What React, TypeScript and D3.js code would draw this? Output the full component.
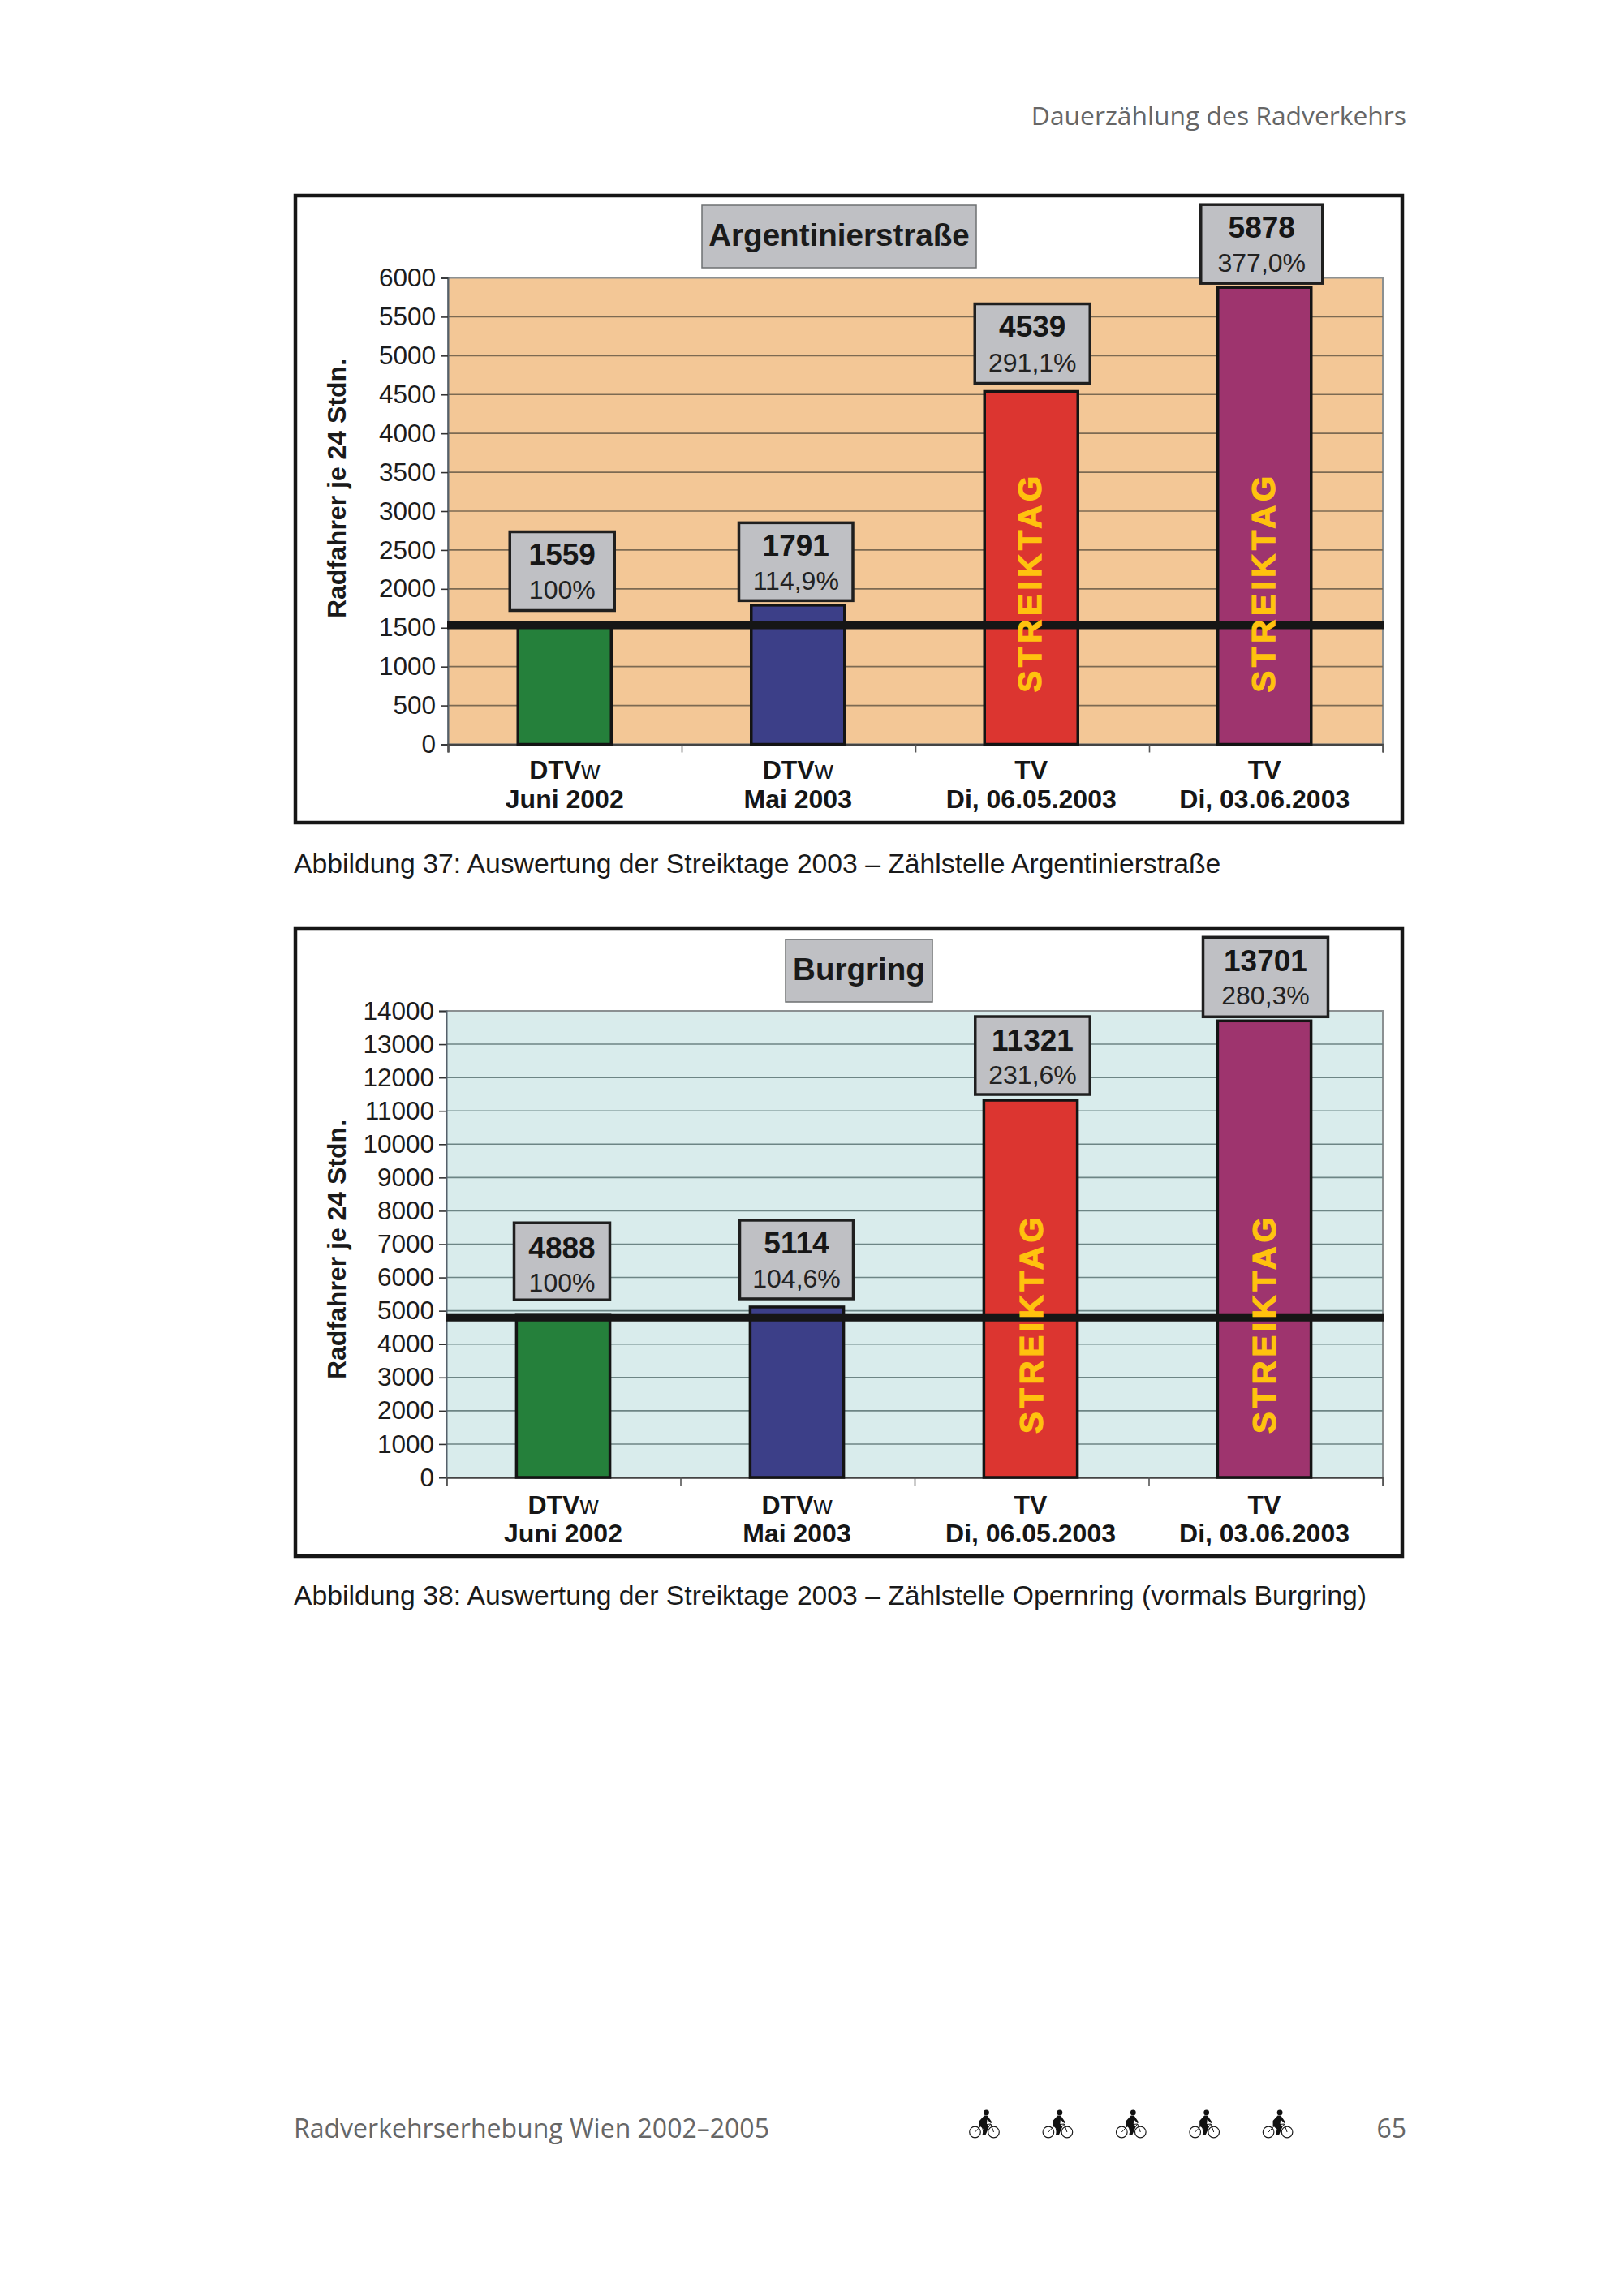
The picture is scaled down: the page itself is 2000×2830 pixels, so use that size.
import { useEffect, useRef } from "react";
import * as d3 from "d3";

const categoryKinds = ["DTV", "DTV", "TV", "TV"];
const categoryDates = ["Juni 2002", "Mai 2003", "Di, 06.05.2003", "Di, 03.06.2003"];
const barColors = ["#25803b", "#3c3f88", "#dc3530", "#9e346e"];

const argValues = [1559, 1791, 4539, 5878];
const argPercents = ["100%", "114,9%", "291,1%", "377,0%"];
const argTicks = d3.range(0, 6001, 500);
const argRefLine = 1535;

const burgValues = [4888, 5114, 11321, 13701];
const burgPercents = ["100%", "104,6%", "231,6%", "280,3%"];
const burgTicks = d3.range(0, 14001, 1000);
const burgRefLine = 4800;

const SANS = "'Liberation Sans', Arial, sans-serif";
const PAGE_FONT = "'Open Sans', sans-serif";

type BoxLayout = { dx: number; gap: number; w: number; h: number; ty: number };

type ChartProps = {
  title: string;
  values: number[];
  percents: string[];
  ticks: number[];
  refLine: number;
  frame: { left: number; top: number; right: number; bottom: number };
  plot: { left: number; top: number; right: number; bottom: number };
  titleBox: { x0: number; x1: number; y0: number; y1: number };
  boxes: BoxLayout[];
  plotFill: string;
  gridColor: string;
  label1: number;
  label2: number;
  axisTitleY: number;
  strikeBottom: number;
  strikeDx: number[];
};

const argBoxes: BoxLayout[] = [
  { dx: -3, gap: 15.6, w: 129, h: 97, ty: -1 },
  { dx: -2.5, gap: 5.5, w: 140.5, h: 96, ty: -1 },
  { dx: 1.5, gap: 10, w: 142, h: 98, ty: -1 },
  { dx: -3.5, gap: 5, w: 150, h: 97, ty: -1 },
];

const burgBoxes: BoxLayout[] = [
  { dx: -1.5, gap: 18, w: 118, h: 95, ty: 2 },
  { dx: -0.5, gap: 10, w: 140, h: 97, ty: 0 },
  { dx: 2.5, gap: 7, w: 141.5, h: 96, ty: 0 },
  { dx: 1.5, gap: 5, w: 154, h: 98, ty: 0 },
];

function drawChart(root: d3.Selection<SVGGElement, unknown, null, undefined>, c: ChartProps) {
  const { plot, frame } = c;
  const x = d3
    .scaleBand<number>()
    .domain(d3.range(c.values.length))
    .range([plot.left, plot.right - 2])
    .paddingInner(0.6)
    .paddingOuter(0.3);
  const y = d3
    .scaleLinear()
    .domain([0, c.ticks[c.ticks.length - 1]])
    .range([plot.bottom, plot.top]);
  const cx = (i: number) => (x(i) ?? 0) + x.bandwidth() / 2;

  // frame
  root
    .append("rect")
    .attr("x", frame.left)
    .attr("y", frame.top)
    .attr("width", frame.right - frame.left)
    .attr("height", frame.bottom - frame.top)
    .attr("fill", "#fff")
    .attr("stroke", "#161616")
    .attr("stroke-width", 4.5);

  // plot area
  root
    .append("rect")
    .attr("x", plot.left)
    .attr("y", plot.top)
    .attr("width", plot.right - plot.left)
    .attr("height", plot.bottom - plot.top)
    .attr("fill", c.plotFill)
    .attr("stroke", "#8b9092")
    .attr("stroke-width", 2);

  // grid
  root
    .append("g")
    .selectAll("line")
    .data(c.ticks.slice(1, -1))
    .join("line")
    .attr("x1", plot.left)
    .attr("x2", plot.right)
    .attr("y1", (d) => y(d))
    .attr("y2", (d) => y(d))
    .attr("stroke", c.gridColor)
    .attr("stroke-width", 1.6);

  // axes
  const yAxis = root
    .append("g")
    .attr("transform", `translate(${plot.left}, 0)`)
    .call(
      d3
        .axisLeft(y)
        .tickValues(c.ticks)
        .tickSize(9)
        .tickPadding(6)
        .tickFormat((d) => String(d))
    );
  yAxis.select(".domain").attr("stroke", "#55606a").attr("stroke-width", 2);
  yAxis.selectAll(".tick line").attr("stroke", "#333").attr("stroke-width", 1.6);
  yAxis
    .selectAll(".tick text")
    .attr("fill", "#1c1c1c")
    .style("font-family", SANS)
    .style("font-size", "31.5px");

  const xEdges = d3
    .scaleLinear()
    .domain([0, c.values.length])
    .range([plot.left, plot.right]);
  const xAxis = root
    .append("g")
    .attr("transform", `translate(0, ${plot.bottom})`)
    .call(
      d3
        .axisBottom(xEdges)
        .tickValues(d3.range(c.values.length + 1))
        .tickSize(10)
        .tickFormat(() => "")
    );
  xAxis.select(".domain").attr("stroke", "#444").attr("stroke-width", 2.5);
  xAxis.selectAll(".tick line").attr("stroke", "#555").attr("stroke-width", 1.6);

  // bars
  root
    .append("g")
    .selectAll("rect")
    .data(c.values)
    .join("rect")
    .attr("x", (_, i) => x(i) ?? 0)
    .attr("y", (d) => y(d))
    .attr("width", x.bandwidth())
    .attr("height", (d) => plot.bottom - y(d))
    .attr("fill", (_, i) => barColors[i])
    .attr("stroke", "#141414")
    .attr("stroke-width", 3.5);

  // reference line at the June 2002 level
  root
    .append("line")
    .attr("x1", plot.left - 1)
    .attr("x2", plot.right + 1)
    .attr("y1", y(c.refLine))
    .attr("y2", y(c.refLine))
    .attr("stroke", "#161616")
    .attr("stroke-width", 10);

  // strike labels
  [2, 3].forEach((i) => {
    root
      .append("text")
      .attr("transform", `translate(${cx(i) + c.strikeDx[i - 2]}, ${plot.bottom - c.strikeBottom}) rotate(-90)`)
      .attr("fill", "#ffc20e")
      .attr("stroke", "#ffc20e")
      .attr("stroke-width", 1.2)
      .style("font-family", SANS)
      .style("font-weight", "bold")
      .style("font-size", "40px")
      .style("letter-spacing", "4.8px")
      .text("STREIKTAG");
  });

  // value boxes
  c.values.forEach((v, i) => {
    const b = c.boxes[i];
    const bx = cx(i) + b.dx;
    const by = y(v) - b.gap - b.h;
    const g = root.append("g");
    g.append("rect")
      .attr("x", bx - b.w / 2)
      .attr("y", by)
      .attr("width", b.w)
      .attr("height", b.h)
      .attr("fill", "#bfc0c4")
      .attr("stroke", "#1f1f1f")
      .attr("stroke-width", 3.5);
    g.append("text")
      .attr("x", bx)
      .attr("y", by + 41.5 + b.ty)
      .attr("text-anchor", "middle")
      .attr("fill", "#161616")
      .style("font-family", SANS)
      .style("font-weight", "bold")
      .style("font-size", "37px")
      .text(v);
    g.append("text")
      .attr("x", bx)
      .attr("y", by + 83 + Math.max(b.ty, 0))
      .attr("text-anchor", "middle")
      .attr("fill", "#222")
      .style("font-family", SANS)
      .style("font-size", "32px")
      .text(c.percents[i]);
  });

  // title box
  const t = c.titleBox;
  root
    .append("rect")
    .attr("x", t.x0)
    .attr("y", t.y0)
    .attr("width", t.x1 - t.x0)
    .attr("height", t.y1 - t.y0)
    .attr("fill", "#bfc0c4")
    .attr("stroke", "#6e7072")
    .attr("stroke-width", 1.5);
  root
    .append("text")
    .attr("x", (t.x0 + t.x1) / 2)
    .attr("y", (t.y0 + t.y1) / 2 + 11)
    .attr("text-anchor", "middle")
    .attr("fill", "#1a1a1a")
    .style("font-family", SANS)
    .style("font-weight", "bold")
    .style("font-size", "38.6px")
    .text(c.title);

  // axis title
  root
    .append("text")
    .attr("transform", `translate(${frame.left + 62}, ${c.axisTitleY}) rotate(-90)`)
    .attr("text-anchor", "middle")
    .attr("fill", "#1a1a1a")
    .style("font-family", SANS)
    .style("font-weight", "bold")
    .style("font-size", "32px")
    .text("Radfahrer je 24 Stdn.");

  // category labels
  c.values.forEach((_, i) => {
    const top = root
      .append("text")
      .attr("x", cx(i))
      .attr("y", c.label1)
      .attr("text-anchor", "middle")
      .attr("fill", "#161616")
      .style("font-family", SANS)
      .style("font-weight", "bold")
      .style("font-size", "32px")
      .text(categoryKinds[i]);
    if (categoryKinds[i] === "DTV") {
      top.append("tspan").style("font-weight", "normal").text("w");
    }
    root
      .append("text")
      .attr("x", cx(i))
      .attr("y", c.label2)
      .attr("text-anchor", "middle")
      .attr("fill", "#161616")
      .style("font-family", SANS)
      .style("font-weight", "bold")
      .style("font-size", "32px")
      .text(categoryDates[i]);
  });
}

function Bike({ x, y }: { x: number; y: number }) {
  return (
    <g transform={`translate(${x}, ${y})`} fill="none" stroke="#1a1a1a">
      <circle cx={-11.5} cy={0} r={6.8} strokeWidth={1.2} />
      <circle cx={11.5} cy={0} r={6.8} strokeWidth={1.2} />
      <path d="M-11.5 0 L-3 -9 L8 -10 L11.5 0 M-3 -9 L-1 1 L8 -10" strokeWidth={1} />
      <circle cx={2.5} cy={-24} r={3.4} fill="#111" stroke="none" />
      <path
        d="M0 -20.5 L4 -20 L9.5 -12 L8 -11 L3.5 -15.5 L3 -10 L6 -7 L1.5 3.5 L-2.5 3.5 L-1 -3.5 L-6 -8 L-6 -14 Z"
        fill="#111"
        stroke="none"
      />
    </g>
  );
}

const bikeSlots = [0, 1, 2, 3, 4];

export default function App() {
  const topRef = useRef<SVGGElement>(null);
  const bottomRef = useRef<SVGGElement>(null);

  useEffect(() => {
    const a = d3.select(topRef.current as SVGGElement);
    a.selectAll("*").remove();
    drawChart(a, {
      title: "Argentinierstraße",
      values: argValues,
      percents: argPercents,
      ticks: argTicks,
      refLine: argRefLine,
      frame: { left: 364, top: 241, right: 1728, bottom: 1014 },
      plot: { left: 552, top: 342.5, right: 1704, bottom: 917.5 },
      titleBox: { x0: 865, x1: 1203, y0: 253, y1: 330 },
      boxes: argBoxes,
      plotFill: "#f3c796",
      gridColor: "#7c6a52",
      label1: 960,
      label2: 996,
      axisTitleY: 602,
      strikeBottom: 64,
      strikeDx: [12, 13],
    });

    const b = d3.select(bottomRef.current as SVGGElement);
    b.selectAll("*").remove();
    drawChart(b, {
      title: "Burgring",
      values: burgValues,
      percents: burgPercents,
      ticks: burgTicks,
      refLine: burgRefLine,
      frame: { left: 364, top: 1144, right: 1728, bottom: 1918 },
      plot: { left: 550, top: 1246, right: 1704, bottom: 1821 },
      titleBox: { x0: 968, x1: 1149, y0: 1158, y1: 1235 },
      boxes: burgBoxes,
      plotFill: "#d9ecec",
      gridColor: "#6d8585",
      label1: 1866,
      label2: 1901,
      axisTitleY: 1540,
      strikeBottom: 54,
      strikeDx: [15, 14],
    });
  }, []);

  return (
    <svg
      width={2000}
      height={2830}
      viewBox="0 0 2000 2830"
      style={{ position: "absolute", left: 0, top: 0, background: "#fff" }}
    >
      <text x={1733} y={154} textAnchor="end" fill="#666" fontFamily={PAGE_FONT} fontSize={31.8}>
        Dauerzählung des Radverkehrs
      </text>

      <g ref={topRef} />
      <text x={362} y={1076} fill="#1a1a1a" fontFamily={SANS} fontSize={33.7}>
        Abbildung 37: Auswertung der Streiktage 2003 – Zählstelle Argentinierstraße
      </text>

      <g ref={bottomRef} />
      <text x={362} y={1978} fill="#1a1a1a" fontFamily={SANS} fontSize={33.7}>
        Abbildung 38: Auswertung der Streiktage 2003 – Zählstelle Opernring (vormals Burgring)
      </text>

      <text x={362} y={2635} fill="#666" fontFamily={PAGE_FONT} fontSize={32}>
        Radverkehrserhebung Wien 2002–2005
      </text>
      {bikeSlots.map((i) => (
        <Bike key={i} x={1213 + i * 90.4} y={2628} />
      ))}
      <text x={1733} y={2635} textAnchor="end" fill="#666" fontFamily={PAGE_FONT} fontSize={32}>
        65
      </text>
    </svg>
  );
}
